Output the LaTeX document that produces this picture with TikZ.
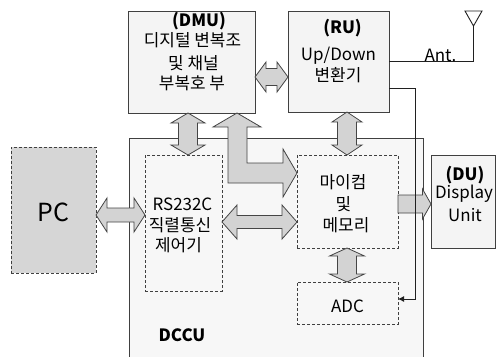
\documentclass[tikz,border=0pt]{standalone}
\usepackage{fontspec}
\setmainfont{Noto Sans CJK KR}
\usetikzlibrary{arrows.meta,calc,fit}
\definecolor{edge}{HTML}{404040}
\definecolor{boxfill}{HTML}{F4F4F4}
\definecolor{dccufill}{HTML}{F7F7F7}
\definecolor{pcfill}{HTML}{D6D6D6}
\definecolor{arrowfill}{HTML}{D3D3D3}
\definecolor{arrowedge}{HTML}{454545}
\definecolor{wire}{HTML}{202020}
\tikzset{
  box/.style={draw=edge, line width=0.9bp, fill=boxfill, inner sep=0pt, outer sep=0pt},
  dbox/.style={draw=edge, line width=0.9bp, dash pattern=on 3bp off 2bp, inner sep=0pt, outer sep=0pt},
  lbl/.style={font=\fontsize{17}{20}\selectfont, inner sep=0pt},
  blbl/.style={font=\fontsize{17}{20}\selectfont\bfseries, inner sep=0pt},
  fat/.style={draw=arrowedge, fill=arrowfill, line width=0.8bp, line join=miter},
  wireline/.style={draw=wire, line width=0.9bp},
}
% horizontal double fat arrow: start anchor, end anchor, y, shaft half, head half, head length
\newcommand\fatH[6]{%
  \draw[fat] ($(#1|-0,#3)$) -- ($(#1|-0,#3)+(#6,-#5)$) -- ($(#1|-0,#3)+(#6,-#4)$)
    -- ($(#2|-0,#3)+(-#6,-#4)$) -- ($(#2|-0,#3)+(-#6,-#5)$) -- ($(#2|-0,#3)$)
    -- ($(#2|-0,#3)+(-#6,#5)$) -- ($(#2|-0,#3)+(-#6,#4)$)
    -- ($(#1|-0,#3)+(#6,#4)$) -- ($(#1|-0,#3)+(#6,#5)$) -- cycle;}
% vertical double fat arrow: start anchor (top), end anchor (bottom), x, shaft half, head half, head length
\newcommand\fatV[6]{%
  \draw[fat] ($(#1-|#3,0)$) -- ($(#1-|#3,0)+(#5,#6)$) -- ($(#1-|#3,0)+(#4,#6)$)
    -- ($(#2-|#3,0)+(#4,-#6)$) -- ($(#2-|#3,0)+(#5,-#6)$) -- ($(#2-|#3,0)$)
    -- ($(#2-|#3,0)+(-#5,-#6)$) -- ($(#2-|#3,0)+(-#4,-#6)$)
    -- ($(#1-|#3,0)+(-#4,#6)$) -- ($(#1-|#3,0)+(-#5,#6)$) -- cycle;}
% single horizontal fat arrow
\newcommand\fatS[6]{%
  \draw[fat] ($(#1|-0,#3)+(0,-#4)$)
    -- ($(#2|-0,#3)+(-#6,-#4)$) -- ($(#2|-0,#3)+(-#6,-#5)$) -- ($(#2|-0,#3)$)
    -- ($(#2|-0,#3)+(-#6,#5)$) -- ($(#2|-0,#3)+(-#6,#4)$)
    -- ($(#1|-0,#3)+(0,#4)$) -- cycle;}
\begin{document}
\begin{tikzpicture}[x=1bp,y=-1bp]
\useasboundingbox (0,0) rectangle (496,356);
\clip (0,0) rectangle (496,356);
\fill[white] (0,0) rectangle (496,356);

% boxes
\node[box, fill=dccufill, fit={(129,138) (423,380)}] (dccu) {};
\node[box, fit={(128,11) (255,113)}] (dmu) {};
\node[box, fit={(288,11) (389,112)}] (ru) {};
\node[box, fit={(431,155) (495.5,248)}] (du) {};
\node[dbox, fill=pcfill, fit={(11,147) (96,273)}] (pc) {};
\node[dbox, fit={(145,155) (222,291)}] (rs) {};
\node[dbox, fit={(297,155) (398,248)}] (mc) {};
\node[dbox, fit={(297,282) (398,324)}] (adc) {};

% texts
\node[blbl] (t1) at (199,21) {(DMU)};
\node[lbl] (t2) at (192.5,40) {디지털 변복조};
\node[lbl] (t3) at (193.5,63.5) {및 채널};
\node[lbl] (t4) at (192,83.5) {부복호 부};
\node[blbl] (t5) at (342.5,28.5) {(RU)};
\node[lbl, anchor=base] (t6) at (338.5,60) {Up/Down};
\node[lbl] (t7) at (338,75) {변환기};
\node[lbl, font=\fontsize{25}{28}\selectfont] (t8) at (53.5,212.5) {PC};
\node[lbl, anchor=base] (t9) at (182.5,210) {RS232C};
\node[lbl] (t10) at (180,225.5) {직렬통신};
\node[lbl] (t11) at (178.5,245.5) {제어기};
\node[lbl] (t12) at (343,182) {마이컴};
\node[lbl] (t13) at (343.5,204.5) {및};
\node[lbl] (t14) at (346,225) {메모리};
\node[lbl, anchor=base] (t15) at (347.5,312) {ADC};
\node[blbl] (t16) at (465,175) {(DU)};
\node[lbl, anchor=base] (t17) at (464,198.5) {Display};
\node[lbl, anchor=base] (t18) at (465,221) {Unit};
\node[blbl, anchor=base] (t19) at (182,341) {DCCU};

% fat arrows
\fatH{dmu.east}{ru.west}{77}{8.5}{15}{11}
\fatV{dmu.south}{rs.north}{188}{9.5}{17}{10}
\coordinate (la) at (dmu.south -| 237,0);
\coordinate (lb) at (mc.west |- 0,173);
\draw[fat] (la) -- ($(la)+(24,14)$) -- ($(la)+(10,14)$) -- ($(la|-lb)+(10,-10)$)
  -- ($(lb)+(-14,-10)$) -- ($(lb)+(-14,-24)$) -- (lb) -- ($(lb)+(-14,24)$)
  -- ($(lb)+(-14,10)$) -- ($(la|-lb)+(-9,10)$) -- ($(la)+(-9,14)$) -- ($(la)+(-24,14)$) -- cycle;
\fatV{ru.south}{mc.north}{347}{9.5}{15}{10}
\fatH{rs.east}{mc.west}{222}{6.5}{17}{15}
\fatH{pc.east}{rs.west}{215}{7}{17}{11}
\fatS{mc.east}{du.west}{204}{9}{15}{8.5}
\fatV{mc.south}{adc.north}{347}{9.5}{17.5}{8}

% antenna
\coordinate (anttip) at (473.5,26);
\draw[wireline] (465,11) -- (482,11) -- (anttip) -- cycle;
\draw[wireline] (ru.east) -- (ru.east -| anttip) -- (anttip);
\node[lbl, anchor=base] (ant) at (440.5,61) {Ant.};

% RU to ADC
\coordinate (c1) at (415,88);
\coordinate (c2) at (415,299);
\draw[wireline, -{Latex[length=6bp,width=6bp]}] (ru.east |- c1) -- (c1) -- (c2) -- (adc.east |- c2);
\end{tikzpicture}
\end{document}
